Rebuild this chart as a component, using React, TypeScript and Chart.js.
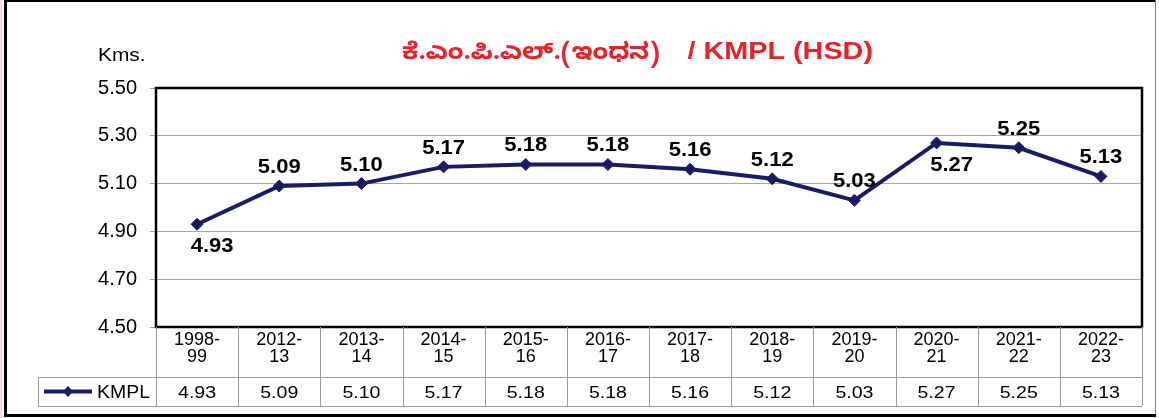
import React, { useEffect, useRef } from "react";
import { Chart, registerables } from "chart.js";

Chart.register(...registerables);

const categories: string[][] = [
  ["1998-", "99"], ["2012-", "13"], ["2013-", "14"], ["2014-", "15"],
  ["2015-", "16"], ["2016-", "17"], ["2017-", "18"], ["2018-", "19"],
  ["2019-", "20"], ["2020-", "21"], ["2021-", "22"], ["2022-", "23"],
];
const kmplValues: number[] = [4.93, 5.09, 5.1, 5.17, 5.18, 5.18, 5.16, 5.12, 5.03, 5.27, 5.25, 5.13];
const seriesName = "KMPL";
const titleKannada = "ಕೆ.ಎಂ.ಪಿ.ಎಲ್.(ಇಂಧನ)";
const titleLatin = "/ KMPL (HSD)";
const yAxisLabel = "Kms.";
const yMin = 4.5;
const yMax = 5.5;
const yStep = 0.2;
const labelsBelow: number[] = [0, 9];

const NAVY = "#1b1b63";
const RED = "#e8212b";
const FONT = "'Liberation Sans', Arial, sans-serif";

function sText(ctx: CanvasRenderingContext2D, t: string, x: number, y: number, align: CanvasTextAlign, sx: number) {
  ctx.save();
  ctx.translate(x, y);
  ctx.scale(sx, 1);
  ctx.textAlign = align;
  ctx.textBaseline = "alphabetic";
  ctx.fillText(t, 0, 0);
  ctx.restore();
}

const framePlugin = {
  id: "frame",
  beforeDraw(chart: any) {
    const ctx = chart.ctx as CanvasRenderingContext2D;
    const W = chart.width, H = chart.height;
    ctx.save();
    ctx.fillStyle = "#ffffff";
    ctx.fillRect(0, 0, W, H);
    ctx.fillStyle = "#f2d6dc";
    ctx.fillRect(0, 0, 2, H);
    ctx.fillStyle = "#000";
    ctx.fillRect(4, 0, 3, H - 2);
    ctx.fillRect(4, 0, 1152, 2);
    ctx.fillRect(4, 414, 1152, 3);
    ctx.fillStyle = "#808080";
    ctx.fillRect(1155, 0, 1, 414);
    ctx.restore();
  },
  afterDraw(chart: any) {
    const ctx = chart.ctx as CanvasRenderingContext2D;
    const a = chart.chartArea;
    const xs = chart.scales.x;
    ctx.save();
    // plot border
    ctx.strokeStyle = "#000";
    ctx.lineWidth = 2.5;
    ctx.strokeRect(a.left, a.top, a.right - a.left, a.bottom - a.top);

    // title
    ctx.fillStyle = RED;
    ctx.font = `bold 23px 'Noto Sans Kannada', 'Noto Sans', sans-serif`;
    sText(ctx, titleKannada, 402, 59, "left", 1.12);
    ctx.font = `bold 24px ${FONT}`;
    sText(ctx, titleLatin, 873, 59, "right", 1.2);

    // y axis label
    ctx.fillStyle = "#000";
    ctx.font = `19px ${FONT}`;
    sText(ctx, yAxisLabel, 98, 61, "left", 1.1);

    // data table
    const n = categories.length;
    const step = (a.right - a.left) / n;
    const rowTop = a.bottom;
    const rowMid = 377;
    const rowBot = 406;
    const legLeft = 38;
    ctx.strokeStyle = "#9a9a9a";
    ctx.lineWidth = 1;
    ctx.beginPath();
    for (let i = 1; i <= n; i++) {
      const x = Math.round(a.left + i * step) + 0.5;
      ctx.moveTo(x, rowTop);
      ctx.lineTo(x, rowBot);
    }
    ctx.moveTo(legLeft + 0.5, rowMid);
    ctx.lineTo(legLeft + 0.5, rowBot);
    ctx.moveTo(Math.round(a.left) + 0.5, rowTop);
    ctx.lineTo(Math.round(a.left) + 0.5, rowBot);
    ctx.moveTo(legLeft, rowMid + 0.5);
    ctx.lineTo(a.right, rowMid + 0.5);
    ctx.moveTo(legLeft, rowBot + 0.5);
    ctx.lineTo(a.right, rowBot + 0.5);
    ctx.stroke();

    // legend key
    ctx.strokeStyle = NAVY;
    ctx.lineWidth = 4;
    ctx.beginPath();
    ctx.moveTo(44, 391.5);
    ctx.lineTo(92, 391.5);
    ctx.stroke();
    ctx.fillStyle = NAVY;
    ctx.beginPath();
    ctx.moveTo(68, 386);
    ctx.lineTo(73, 391.5);
    ctx.lineTo(68, 397);
    ctx.lineTo(63, 391.5);
    ctx.closePath();
    ctx.fill();
    ctx.fillStyle = "#000";
    ctx.font = `18px ${FONT}`;
    sText(ctx, seriesName, 97, 398, "left", 1.08);

    // values row
    ctx.font = `17px ${FONT}`;
    kmplValues.forEach((v, i) => {
      const x = xs.getPixelForValue(i);
      sText(ctx, v.toFixed(2), x, 398, "center", 1.15);
    });
    ctx.restore();
  },
  afterDatasetsDraw(chart: any) {
    const ctx = chart.ctx as CanvasRenderingContext2D;
    const meta = chart.getDatasetMeta(0);
    ctx.save();
    ctx.fillStyle = "#000";
    ctx.font = `bold 20px ${FONT}`;
    meta.data.forEach((pt: any, i: number) => {
      const v = kmplValues[i].toFixed(2);
      if (labelsBelow.includes(i)) {
        sText(ctx, v, pt.x + 15, pt.y + 28, "center", 1.1);
      } else {
        sText(ctx, v, pt.x, pt.y - 13, "center", 1.1);
      }
    });
    ctx.restore();
  },
};

export default function App() {
  const ref = useRef<HTMLCanvasElement | null>(null);
  useEffect(() => {
    if (!ref.current) return;
    const chart = new Chart(ref.current, {
      type: "line",
      data: {
        labels: categories,
        datasets: [
          {
            label: seriesName,
            data: kmplValues,
            borderColor: NAVY,
            backgroundColor: NAVY,
            borderWidth: 4,
            pointStyle: "rectRot",
            pointRadius: 6,
            pointBorderWidth: 1,
            pointBackgroundColor: NAVY,
            pointBorderColor: NAVY,
            tension: 0,
            clip: false as any,
          },
        ],
      },
      options: {
        animation: false,
        responsive: false,
        devicePixelRatio: 1,
        layout: { padding: { left: 0, right: 17, top: 88, bottom: 41 } },
        plugins: {
          legend: { display: false },
          title: { display: false },
          tooltip: { enabled: false },
        },
        scales: {
          x: {
            type: "category",
            offset: true,
            grid: { display: false, drawTicks: false },
            border: { display: false },
            ticks: {
              padding: 4,
              color: "#000",
              maxRotation: 0,
              autoSkip: false,
              font: { family: FONT, size: 18, lineHeight: 0.95 },
            },
            afterFit: (s: any) => { s.height = 50; },
          },
          y: {
            min: yMin,
            max: yMax,
            grid: { color: "#a6a6a6", lineWidth: 1, tickLength: 6, drawTicks: true },
            border: { display: false },
            ticks: {
              stepSize: yStep,
              padding: 13,
              color: "#000",
              font: { family: FONT, size: 20 },
              callback: (v: any) => Number(v).toFixed(2),
            },
            afterFit: (s: any) => { s.width = 156; },
          },
        },
      },
      plugins: [framePlugin],
    });
    return () => chart.destroy();
  }, []);
  return (
    <div style={{ position: "fixed", left: 0, top: 0, width: 1159, height: 418, background: "#fff" }}>
      <canvas ref={ref} width={1159} height={418} style={{ display: "block", width: 1159, height: 418 }} />
    </div>
  );
}
